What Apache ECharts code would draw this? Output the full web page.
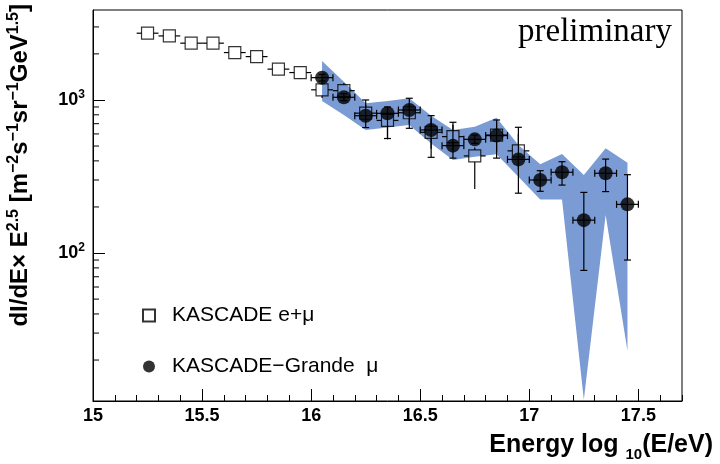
<!DOCTYPE html>
<html>
<head>
<meta charset="utf-8">
<script src="https://cdn.jsdelivr.net/npm/echarts@6/dist/echarts.min.js"></script>
<style>
  html, body { margin: 0; padding: 0; background: #fff; }
  #chart { width: 720px; height: 464px; }
</style>
</head>
<body>
<div id="chart"></div>
<script>
// KASCADE e+mu (open squares)
const kascadeEnergy = [15.25, 15.35, 15.45, 15.55, 15.65, 15.75, 15.85, 15.95, 16.05,
  16.15, 16.25, 16.35, 16.45, 16.55, 16.65, 16.75, 16.85, 16.95];
const kascadeFlux = [2730, 2620, 2350, 2350, 2040, 1920, 1590, 1510, 1165,
  1150, 820, 735, 825, 615, 576, 431, 590, 465];
const kascadeLow = [2650, 2540, 2280, 2280, 1900, 1780, 1450, 1370, 1030,
  1020, 720, 553, 700, 480, 470, 262, 460, 350];
const kascadeHigh = [2810, 2700, 2420, 2420, 2180, 2060, 1740, 1660, 1310,
  1290, 930, 900, 950, 760, 690, 490, 720, 600];

// KASCADE-Grande mu (filled circles)
const grandeEnergy = [16.05, 16.15, 16.25, 16.35, 16.45, 16.55, 16.65, 16.75,
  16.85, 16.95, 17.05, 17.15, 17.25, 17.35, 17.45];
const grandeFlux = [1399, 1041, 789, 818, 860, 637, 503, 553, 585, 409, 300, 337, 164, 332, 208];
const grandeLow = [1330, 990, 660, 560, 653, 422, 417, 520, 417, 246, 253, 278, 77, 252, 90];
const grandeHigh = [1470, 1100, 1000, 900, 1026, 790, 715, 590, 740, 663, 345, 395, 249, 411, 325];

// systematic band around the Grande points
const bandUpper = [1800, 1317, 951, 985, 1026, 790, 637, 669, 766, 508, 380, 444, 323, 483, 389];
const bandLower = [985, 798, 637, 662, 686, 520, 405, 426, 442, 315, 224, 224, 11, 177, 23];

const binHalfWidth = 0.05;
const yMinorTicks = [20, 30, 40, 50, 60, 70, 80, 90, 200, 300, 400, 500, 600, 700, 800, 900, 2000, 3000];

const FONT = '"Liberation Sans", Arial, sans-serif';
const bandColor = '#7b9bd4';

const chart = echarts.init(document.getElementById('chart'));

const seg = (x1, y1, x2, y2, w = 1.2) => ({
  type: 'line',
  shape: { x1, y1, x2, y2 },
  style: { stroke: '#000', lineWidth: w },
});

const renderBand = (params, api) => {
  if (params.dataIndex !== 0) return null;
  const top = grandeEnergy.map((e, i) => api.coord([e, bandUpper[i]]));
  const bottom = grandeEnergy.map((e, i) => api.coord([e, bandLower[i]])).reverse();
  return {
    type: 'polygon',
    shape: { points: top.concat(bottom) },
    style: { fill: bandColor },
  };
};

// ROOT style: bars stop at the edge of the hollow marker
const renderSquareBars = (params, api) => {
  const x = api.value(0);
  const y = api.value(1);
  const c = api.coord([x, y]);
  const l = api.coord([x - binHalfWidth, y]);
  const r = api.coord([x + binHalfWidth, y]);
  const lo = api.coord([x, api.value(2)]);
  const hi = api.coord([x, api.value(3)]);
  const h = 6;
  const children = [seg(l[0], c[1], c[0] - h, c[1]), seg(c[0] + h, c[1], r[0], c[1])];
  if (hi[1] < c[1] - h) children.push(seg(c[0], c[1] - h, c[0], hi[1]));
  if (lo[1] > c[1] + h) children.push(seg(c[0], c[1] + h, c[0], lo[1]));
  return { type: 'group', children };
};

const renderCircleBars = (params, api) => {
  const x = api.value(0);
  const y = api.value(1);
  const c = api.coord([x, y]);
  const l = api.coord([x - binHalfWidth, y]);
  const r = api.coord([x + binHalfWidth, y]);
  const lo = api.coord([x, api.value(2)]);
  const hi = api.coord([x, api.value(3)]);
  const cap = 3.5;
  return {
    type: 'group',
    children: [
      seg(l[0], c[1], r[0], c[1]),
      seg(l[0], c[1] - cap, l[0], c[1] + cap),
      seg(r[0], c[1] - cap, r[0], c[1] + cap),
      seg(c[0], hi[1], c[0], lo[1]),
      seg(c[0] - cap, hi[1], c[0] + cap, hi[1]),
      seg(c[0] - cap, lo[1], c[0] + cap, lo[1]),
    ],
  };
};

const renderMinorY = (params, api) => {
  const p = api.coord([15, api.value(1)]);
  return seg(p[0], p[1], p[0] + 6, p[1], 1);
};

const option = {
  animation: false,
  backgroundColor: '#fff',
  grid: {
    left: 93, right: 38, top: 10, bottom: 63,
    show: true, borderColor: '#000', borderWidth: 1, backgroundColor: 'transparent',
  },
  xAxis: [
    {
      type: 'value', min: 15, max: 17.7, interval: 0.5, position: 'bottom',
      axisLine: { lineStyle: { color: '#000', width: 1 } },
      axisTick: { inside: true, length: 12, lineStyle: { color: '#000', width: 1 } },
      axisLabel: {
        showMaxLabel: false, margin: 6, color: '#000',
        fontFamily: FONT, fontWeight: 'bold', fontSize: 18,
      },
      splitLine: { show: false },
    },
    {
      type: 'value', min: 15, max: 17.7, interval: 0.1, position: 'bottom',
      axisLine: { show: false },
      axisTick: { inside: true, length: 6, lineStyle: { color: '#000', width: 1 } },
      axisLabel: { show: false },
      splitLine: { show: false },
    },
  ],
  yAxis: {
    type: 'log', logBase: 10, min: 10.8, max: 3870,
    axisLine: { lineStyle: { color: '#000', width: 1 } },
    axisTick: { inside: true, length: 12, lineStyle: { color: '#000', width: 1 } },
    axisLabel: {
      showMinLabel: false, showMaxLabel: false, margin: 8,
      formatter: (v) => `{b|10}{s|${Math.round(Math.log10(v))}}`,
      rich: {
        b: { fontFamily: FONT, fontWeight: 'bold', fontSize: 18, color: '#000', lineHeight: 22 },
        s: { fontFamily: FONT, fontWeight: 'bold', fontSize: 12, color: '#000', lineHeight: 12, verticalAlign: 'top' },
      },
    },
    splitLine: { show: false },
  },
  legend: {
    orient: 'vertical', left: 137, top: 300, itemGap: 30,
    itemWidth: 12, itemHeight: 12,
    textStyle: { fontFamily: FONT, fontSize: 21, color: '#000', padding: [0, 0, 0, 12] },
    data: ['KASCADE e+μ', 'KASCADE−Grande  μ'],
  },
  graphic: [
    {
      type: 'text', x: 672, y: 32,
      style: {
        text: 'preliminary', fill: '#000', align: 'right', verticalAlign: 'middle',
        font: '33px "Liberation Serif", "Times New Roman", serif',
      },
    },
    {
      type: 'text', x: 20, y: 4, rotation: Math.PI / 2,
      style: {
        text: '{n|dI/dE× E}{s|2.5}{n| [m}{s|−2}{n|s}{s|−1}{n|sr}{s|−1}{n|GeV}{s|1.5}{n|]}',
        align: 'right', verticalAlign: 'middle', fill: '#000',
        rich: {
          n: { fontFamily: FONT, fontWeight: 'bold', fontSize: 24, fill: '#000', lineHeight: 29 },
          s: { fontFamily: FONT, fontWeight: 'bold', fontSize: 16, fill: '#000', lineHeight: 16, verticalAlign: 'top' },
        },
      },
    },
    {
      type: 'text', x: 713, y: 445,
      style: {
        text: '{n|Energy log }{d|10}{n|(E/eV)}',
        align: 'right', verticalAlign: 'middle', fill: '#000',
        rich: {
          n: { fontFamily: FONT, fontWeight: 'bold', fontSize: 25, fill: '#000', lineHeight: 34 },
          d: { fontFamily: FONT, fontWeight: 'bold', fontSize: 15, fill: '#000', lineHeight: 15, verticalAlign: 'bottom' },
        },
      },
    },
  ],
  series: [
    {
      type: 'custom', name: 'band', z: 1, silent: true,
      renderItem: renderBand,
      data: grandeEnergy.map((e, i) => [e, bandUpper[i], bandLower[i]]),
    },
    {
      type: 'custom', name: 'minorTicks', z: 6, silent: true,
      renderItem: renderMinorY,
      data: yMinorTicks.map((v) => [15, v]),
    },
    {
      type: 'custom', name: 'kascadeErr', z: 2, silent: true,
      renderItem: renderSquareBars,
      data: kascadeEnergy.map((e, i) => [e, kascadeFlux[i], kascadeLow[i], kascadeHigh[i]]),
    },
    {
      type: 'scatter', name: 'KASCADE e+μ', z: 3, symbol: 'rect', symbolSize: 12,
      itemStyle: { color: 'rgba(255,255,255,0)', borderColor: '#000', borderWidth: 1.2 },
      data: kascadeEnergy.map((e, i) => [e, kascadeFlux[i]]),
    },
    {
      type: 'custom', name: 'grandeErr', z: 4, silent: true,
      renderItem: renderCircleBars,
      data: grandeEnergy.map((e, i) => [e, grandeFlux[i], grandeLow[i], grandeHigh[i]]),
    },
    {
      type: 'scatter', name: 'KASCADE−Grande  μ', z: 5, symbol: 'circle', symbolSize: 14,
      itemStyle: { color: '#000' },
      data: grandeEnergy.map((e, i) => [e, grandeFlux[i]]),
    },
  ],
};

chart.setOption(option);
</script>
</body>
</html>
